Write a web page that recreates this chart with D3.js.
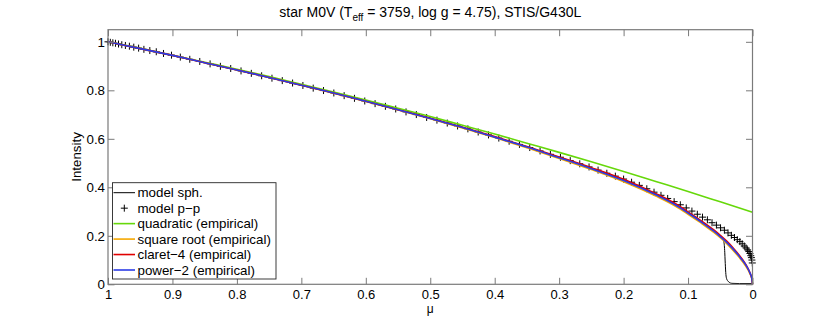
<!DOCTYPE html>
<html><head><meta charset="utf-8">
<script src="https://cdn.jsdelivr.net/npm/d3@7"></script>
<style>
body{margin:0;background:#fff}
svg{display:block}
text{font-family:"Liberation Sans",Arial,Helvetica,sans-serif;fill:#000}
</style></head><body>
<svg id="chart" width="830" height="319"></svg>
<script>
// ---------- data ----------
const xTicks = [1,0.9,0.8,0.7,0.6,0.5,0.4,0.3,0.2,0.1,0];
const xTickLabels = ["1","0.9","0.8","0.7","0.6","0.5","0.4","0.3","0.2","0.1","0"];
const yTicks = [0,0.2,0.4,0.6,0.8,1];
const yTickLabels = ["0","0.2","0.4","0.6","0.8","1"];

// mu grid of the fitted laws
const muFit = [1,0.95,0.9,0.85,0.8,0.75,0.7,0.65,0.6,0.55,0.5,0.45,0.4,0.35,0.3,0.25,0.2,0.15,0.12,0.1,0.08,0.06,0.05,0.04,0.03,0.02,0.015,0.01,0.006,0.003,0.001,0];
const power2   = [1.000,0.972,0.944,0.914,0.884,0.853,0.821,0.789,0.755,0.720,0.684,0.647,0.607,0.566,0.522,0.477,0.428,0.369,0.328,0.294,0.258,0.219,0.197,0.173,0.145,0.114,0.097,0.078,0.059,0.041,0.023,0.000];
const claret4  = [1.000,0.972,0.944,0.914,0.884,0.853,0.821,0.789,0.755,0.720,0.685,0.648,0.609,0.568,0.525,0.481,0.433,0.374,0.333,0.299,0.263,0.224,0.202,0.178,0.150,0.118,0.100,0.080,0.060,0.041,0.022,0.000];
const sqrtRoot = [1.000,0.972,0.944,0.914,0.884,0.853,0.821,0.788,0.754,0.719,0.683,0.645,0.605,0.563,0.519,0.473,0.423,0.364,0.323,0.289,0.253,0.214,0.192,0.168,0.140,0.109,0.092,0.073,0.055,0.038,0.022,0.000];

const muQuad = [1,0.95,0.9,0.85,0.8,0.75,0.7,0.65,0.6,0.55,0.5,0.45,0.4,0.35,0.3,0.25,0.2,0.15,0.1,0.05,0];
const quadratic = [1.000,0.973,0.945,0.916,0.887,0.857,0.825,0.793,0.760,0.726,0.692,0.656,0.620,0.582,0.544,0.505,0.465,0.424,0.383,0.340,0.297];

// spherical model
const muSph = [1,0.95,0.9,0.85,0.8,0.75,0.7,0.65,0.6,0.55,0.5,0.45,0.4,0.35,0.3,0.25,0.2,0.15,0.12,0.1,0.08,0.06,0.05,0.046,0.0445,0.0437,0.043,0.0425,0.042,0.0415,0.041,0.040,0.038,0.036,0.034,0.032,0.02,0];
const sph   = [1.000,0.972,0.944,0.914,0.884,0.853,0.821,0.789,0.755,0.720,0.685,0.648,0.608,0.567,0.524,0.479,0.431,0.372,0.331,0.297,0.261,0.222,0.200,0.188,0.176,0.160,0.130,0.100,0.072,0.048,0.034,0.022,0.013,0.008,0.005,0.004,0.003,0.003];

// plane-parallel model points
const muPP = [1.000,0.9964,0.9925,0.9884,0.9837,0.9786,0.9730,0.9668,0.9600,0.9525,0.9443,0.9351,0.9251,0.9139,0.9015,0.8878,0.8731,0.8576,
 0.8416,0.8256,0.8096,0.7936,0.7776,0.7616,0.7456,0.7296,0.7136,0.6976,0.6816,0.6656,0.6496,0.6336,0.6176,0.6016,0.5856,0.5696,0.5536,0.5376,0.5216,0.5056,0.4896,0.4736,0.4576,0.4416,0.4256,0.4096,0.3936,0.3776,0.3616,0.3456,0.3296,0.3136,
 0.2980,0.2828,0.2680,0.2536,0.2396,0.2260,0.2128,0.2000,0.1876,0.1756,0.1640,0.1528,0.1420,0.1316,0.1216,0.1120,0.1028,0.0940,0.0856,0.0776,0.0700,0.0628,0.0560,0.0496,0.0436,0.0380,0.0328,0.0280,0.0236,0.0196,0.0160,0.0128,0.0100,0.0076,0.0056,0.0040,0.0027,0.0017,0.0009,0.0003];
const pp = [1.000,0.998,0.996,0.994,0.991,0.988,0.985,0.982,0.978,0.974,0.969,0.964,0.959,0.952,0.945,0.937,0.928,0.919,
 0.909,0.899,0.890,0.880,0.870,0.860,0.850,0.840,0.830,0.820,0.809,0.799,0.789,0.778,0.767,0.756,0.745,0.734,0.723,0.711,0.700,0.688,0.677,0.665,0.653,0.641,0.628,0.616,0.603,0.590,0.577,0.564,0.550,0.536,
 0.524,0.510,0.497,0.484,0.471,0.458,0.446,0.434,0.421,0.408,0.394,0.380,0.367,0.354,0.341,0.328,0.315,0.302,0.289,0.277,0.266,0.254,0.244,0.233,0.223,0.212,0.202,0.193,0.184,0.176,0.167,0.158,0.150,0.142,0.135,0.127,0.118,0.110,0.100,0.088];

const legendLabels = ["model sph.","model p\u2212p","quadratic (empirical)","square root (empirical)","claret\u22124 (empirical)","power\u22122 (empirical)"];
const colors = {sph:"#000000", quad:"#66d80a", sqrt:"#f5a800", claret:"#e00000", power:"#2b3ce6"};

// ---------- drawing ----------
const svg = d3.select("#chart");
const L=108, R=752.5, T=29.7, B=284.3;
const x = d3.scaleLinear().domain([1,0]).range([L,R]);
const y = d3.scaleLinear().domain([0,1.05]).range([B,T]);
const axisColor = "#7a7a7a";
const FS = 13.33;

svg.append("rect").attr("width",830).attr("height",319).attr("fill","#fff");

function line(mu, vals){
  return d3.line().x((d,i)=>x(mu[i])).y(d=>y(d)).curve(d3.curveMonotoneX)(vals);
}
const plot = svg.append("g");
plot.append("path").attr("d", line(muSph, sph)).attr("fill","none").attr("stroke",colors.sph).attr("stroke-width",1);
plot.append("g").selectAll("path").data(pp).join("path")
  .attr("d",(d,i)=>{const cx=x(muPP[i]), cy=y(d); return `M${cx-3.5},${cy}H${cx+3.5}M${cx},${cy-3.5}V${cy+3.5}`;})
  .attr("stroke","#000").attr("stroke-width",1).attr("fill","none");
plot.append("path").attr("d", line(muQuad, quadratic)).attr("fill","none").attr("stroke",colors.quad).attr("stroke-width",1.6);
plot.append("path").attr("d", line(muFit, sqrtRoot)).attr("fill","none").attr("stroke",colors.sqrt).attr("stroke-width",1.6);
plot.append("path").attr("d", line(muFit, claret4)).attr("fill","none").attr("stroke",colors.claret).attr("stroke-width",1.6);
plot.append("path").attr("d", line(muFit, power2)).attr("fill","none").attr("stroke",colors.power).attr("stroke-width",1.6);

// axes
function styleAxis(g, fs){
  g.attr("font-family",null).attr("font-size",null);
  g.select(".domain").remove();
  g.selectAll(".tick line").attr("stroke",axisColor).attr("stroke-width",1);
  g.selectAll(".tick text").style("font-size",(fs||FS)+"px").attr("fill","#000");
}
svg.append("g").attr("transform",`translate(0,${B})`)
  .call(d3.axisBottom(x).tickValues(xTicks).tickSizeInner(-6.5).tickSizeOuter(0).tickPadding(5).tickFormat((d,i)=>xTickLabels[i]))
  .call(g=>styleAxis(g,13));
svg.append("g").attr("transform",`translate(0,${T})`)
  .call(d3.axisTop(x).tickValues(xTicks).tickSizeInner(-6.5).tickSizeOuter(0).tickFormat(""))
  .call(styleAxis);
svg.append("g").attr("transform",`translate(${L},0)`)
  .call(d3.axisLeft(y).tickValues(yTicks).tickSizeInner(-6.5).tickSizeOuter(0).tickPadding(3).tickFormat((d,i)=>yTickLabels[i]))
  .call(styleAxis);
svg.append("g").attr("transform",`translate(${R},0)`)
  .call(d3.axisRight(y).tickValues(yTicks).tickSizeInner(-6.5).tickSizeOuter(0).tickFormat(""))
  .call(styleAxis);

svg.append("rect").attr("x",L).attr("y",T).attr("width",R-L).attr("height",B-T)
  .attr("fill","none").attr("stroke",axisColor).attr("stroke-width",1.2);

// labels
const title = svg.append("text").attr("x",(L+R)/2).attr("y",16.7).attr("text-anchor","middle").style("font-size","14px");
title.append("tspan").text("star M0V (T");
title.append("tspan").attr("dy",4.5).style("font-size","10px").text("eff");
title.append("tspan").attr("dy",-4.5).text(" = 3759, log g = 4.75), STIS/G430L");

svg.append("text").attr("x",(L+R)/2).attr("y",312.6).attr("text-anchor","middle").style("font-size","12px").text("\u03bc");
svg.append("text").attr("transform",`translate(81,${(T+B)/2}) rotate(-90)`).attr("text-anchor","middle").style("font-size",FS+"px").text("Intensity");

// legend
const lg = svg.append("g");
lg.append("rect").attr("x",112.5).attr("y",182.7).attr("width",163.5).attr("height",96.3)
  .attr("fill","#fff").attr("stroke","#262626").attr("stroke-width",0.9);
const legendStyles = [
  {type:"line", color:colors.sph, w:1},
  {type:"cross"},
  {type:"line", color:colors.quad, w:1.6},
  {type:"line", color:colors.sqrt, w:1.6},
  {type:"line", color:colors.claret, w:1.6},
  {type:"line", color:colors.power, w:1.6}
];
legendLabels.forEach((lab,i)=>{
  const cy = 192.7 + i*15.46;
  const s = legendStyles[i];
  if(s.type==="line"){
    lg.append("line").attr("x1",113.5).attr("x2",135).attr("y1",cy).attr("y2",cy).attr("stroke",s.color).attr("stroke-width",s.w);
  } else {
    lg.append("path").attr("d",`M${124.3-3.5},${cy}H${124.3+3.5}M${124.3},${cy-3.5}V${cy+3.5}`).attr("stroke","#000").attr("stroke-width",1);
  }
  lg.append("text").attr("x",137.5).attr("y",cy+4.7).style("font-size",FS+"px").text(lab);
});
</script>
</body></html>
